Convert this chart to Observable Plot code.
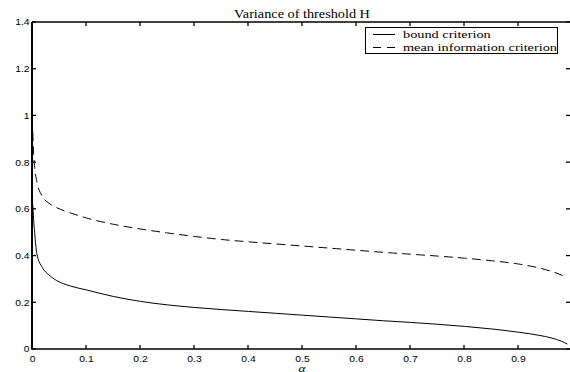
<!DOCTYPE html>
<html>
<head>
<meta charset="utf-8">
<script src="https://cdn.jsdelivr.net/npm/d3@7"></script>
<script src="https://cdn.jsdelivr.net/npm/@observablehq/plot@0.6"></script>
<style>
  html, body { margin: 0; padding: 0; background: #fff; }
  #wrap { position: relative; width: 570px; height: 372px; overflow: hidden; }
  #overlay { position: absolute; left: 0; top: 0; pointer-events: none; }
</style>
</head>
<body>
<div id="wrap"></div>
<script>
// ---- data ----
const alpha = [0.0005, 0.002, 0.004, 0.008, 0.0185, 0.03, 0.045, 0.07, 0.1, 0.15, 0.2, 0.25, 0.3, 0.35, 0.4, 0.45, 0.5, 0.55, 0.6, 0.65, 0.7, 0.75, 0.8, 0.85, 0.9, 0.94, 0.96, 0.98, 0.99];
const boundCriterion = [0.62, 0.56, 0.50, 0.41, 0.35, 0.32, 0.295, 0.272, 0.255, 0.227, 0.206, 0.191, 0.180, 0.171, 0.163, 0.155, 0.147, 0.139, 0.131, 0.123, 0.116, 0.108, 0.099, 0.088, 0.074, 0.060, 0.050, 0.035, 0.024];
const meanInfoCriterion = [0.93, 0.84, 0.78, 0.72, 0.655, 0.627, 0.607, 0.585, 0.563, 0.536, 0.516, 0.499, 0.484, 0.471, 0.461, 0.452, 0.443, 0.434, 0.425, 0.416, 0.408, 0.400, 0.391, 0.380, 0.366, 0.348, 0.335, 0.318, 0.305];
const xTicks = [0, 0.1, 0.2, 0.3, 0.4, 0.5, 0.6, 0.7, 0.8, 0.9, 1];
const yTicks = [0, 0.2, 0.4, 0.6, 0.8, 1, 1.2, 1.4];
const seriesNames = ["bound criterion", "mean information criterion"];
const titleText = "Variance of threshold H";
const xLabelText = "α";

const rows = (vals) => alpha.map((a, i) => ({a, v: vals[i]}));
const fmt = d => String(+d.toFixed(1));
const sans = "'Liberation Sans', Arial, Helvetica, sans-serif";
const serif = "'Liberation Serif', 'Times New Roman', serif";

const W = 570, H = 372, ML = 32, MT = 22, MB = 23, MR = -2;
const TICK = 4;

const chart = Plot.plot({
  width: W,
  height: H,
  marginLeft: ML,
  marginTop: MT,
  marginBottom: MB,
  marginRight: MR,
  style: {fontFamily: sans, fontSize: "9px", color: "black", background: "white"},
  x: {domain: [0, 1], axis: null},
  y: {domain: [0, 1.4], axis: null},
  marks: [
    Plot.axisX(xTicks, {anchor: "bottom", tickSize: 0, tickPadding: 6, tickFormat: fmt, label: null, fontSize: 9, fill: "black"}),
    Plot.axisY(yTicks, {anchor: "left", tickSize: 0, tickPadding: 3, tickFormat: fmt, label: null, fontSize: 9, fill: "black"}),
    Plot.line(rows(meanInfoCriterion), {x: "a", y: "v", stroke: "black", strokeWidth: 1, strokeDasharray: "8,6", curve: "monotone-x"}),
    Plot.line(rows(boundCriterion), {x: "a", y: "v", stroke: "black", strokeWidth: 1, curve: "monotone-x"})
  ]
});

// stretch tick labels horizontally (reference text is wide)
const sx = 1.15;
d3.select(chart).selectAll('g[aria-label$="tick label"] text').each(function() {
  const t = this.getAttribute("transform");
  if (t) {
    this.setAttribute("transform", t + ` scale(${sx},1)`);
  } else {
    const x = +(this.getAttribute("x") || 0), y = +(this.getAttribute("y") || 0);
    this.removeAttribute("x"); this.removeAttribute("y");
    this.setAttribute("transform", `translate(${x},${y}) scale(${sx},1)`);
  }
});

const wrap = document.getElementById("wrap");
wrap.appendChild(chart);

// frame and inward ticks, placed with the chart's own scales
const xScale = chart.scale("x"), yScale = chart.scale("y");
const fLeft = Math.min(...xScale.range), fRight = Math.max(...xScale.range);
const fTop = Math.min(...yScale.range), fBottom = Math.max(...yScale.range);
const ov = d3.select(wrap).append("svg")
  .attr("id", "overlay").attr("width", W).attr("height", H);
const ax = ov.append("g");
const seg = (x1, y1, x2, y2, w) => ax.append("path")
  .attr("d", `M${x1},${y1}L${x2},${y2}`)
  .attr("stroke", "#000").attr("stroke-width", w).attr("fill", "none");
seg(fLeft, fTop, fRight, fTop, 1.5);            // top
seg(fLeft, fBottom, fRight, fBottom, 1.6);      // bottom
seg(fLeft, fTop, fLeft, fBottom + 0.8, 2);      // left
seg(fRight, fTop, fRight, fBottom, 1.5);        // right (mostly off-canvas)
xTicks.forEach(t => {
  const px = xScale.apply(t);
  seg(px, fBottom, px, fBottom - TICK, 1.3);
  seg(px, fTop, px, fTop + TICK, 1.3);
});
yTicks.forEach(t => {
  const py = yScale.apply(t);
  seg(fLeft, py, fLeft + TICK, py, 1.3);
  seg(fRight, py, fRight - TICK - 2, py, 1.3);
});

// title, x label, legend
ov.append("text").text(titleText)
  .attr("transform", "translate(302,18) scale(1.19,1)")
  .attr("text-anchor", "middle").attr("font-family", serif).attr("font-size", 12).attr("fill", "black");

ov.append("text").text(xLabelText)
  .attr("transform", "translate(302,372) scale(1.2,1)")
  .attr("text-anchor", "middle").attr("font-family", serif).attr("font-style", "italic").attr("font-size", 11).attr("fill", "black");

const lg = ov.append("g");
lg.append("rect").attr("x", 365.5).attr("y", 27.5).attr("width", 192).attr("height", 26)
  .attr("fill", "white").attr("stroke", "black").attr("stroke-width", 1);
const dashes = [null, "8,6"];
seriesNames.forEach((name, i) => {
  const y = 34.5 + i * 13;
  lg.append("line").attr("x1", 373).attr("x2", 395).attr("y1", y).attr("y2", y)
    .attr("stroke", "black").attr("stroke-width", 1).attr("stroke-dasharray", dashes[i]);
  lg.append("text").text(name)
    .attr("transform", `translate(403,${y + 3.5}) scale(1.3,1)`)
    .attr("font-family", serif).attr("font-size", 11).attr("fill", "black");
});
</script>
</body>
</html>
